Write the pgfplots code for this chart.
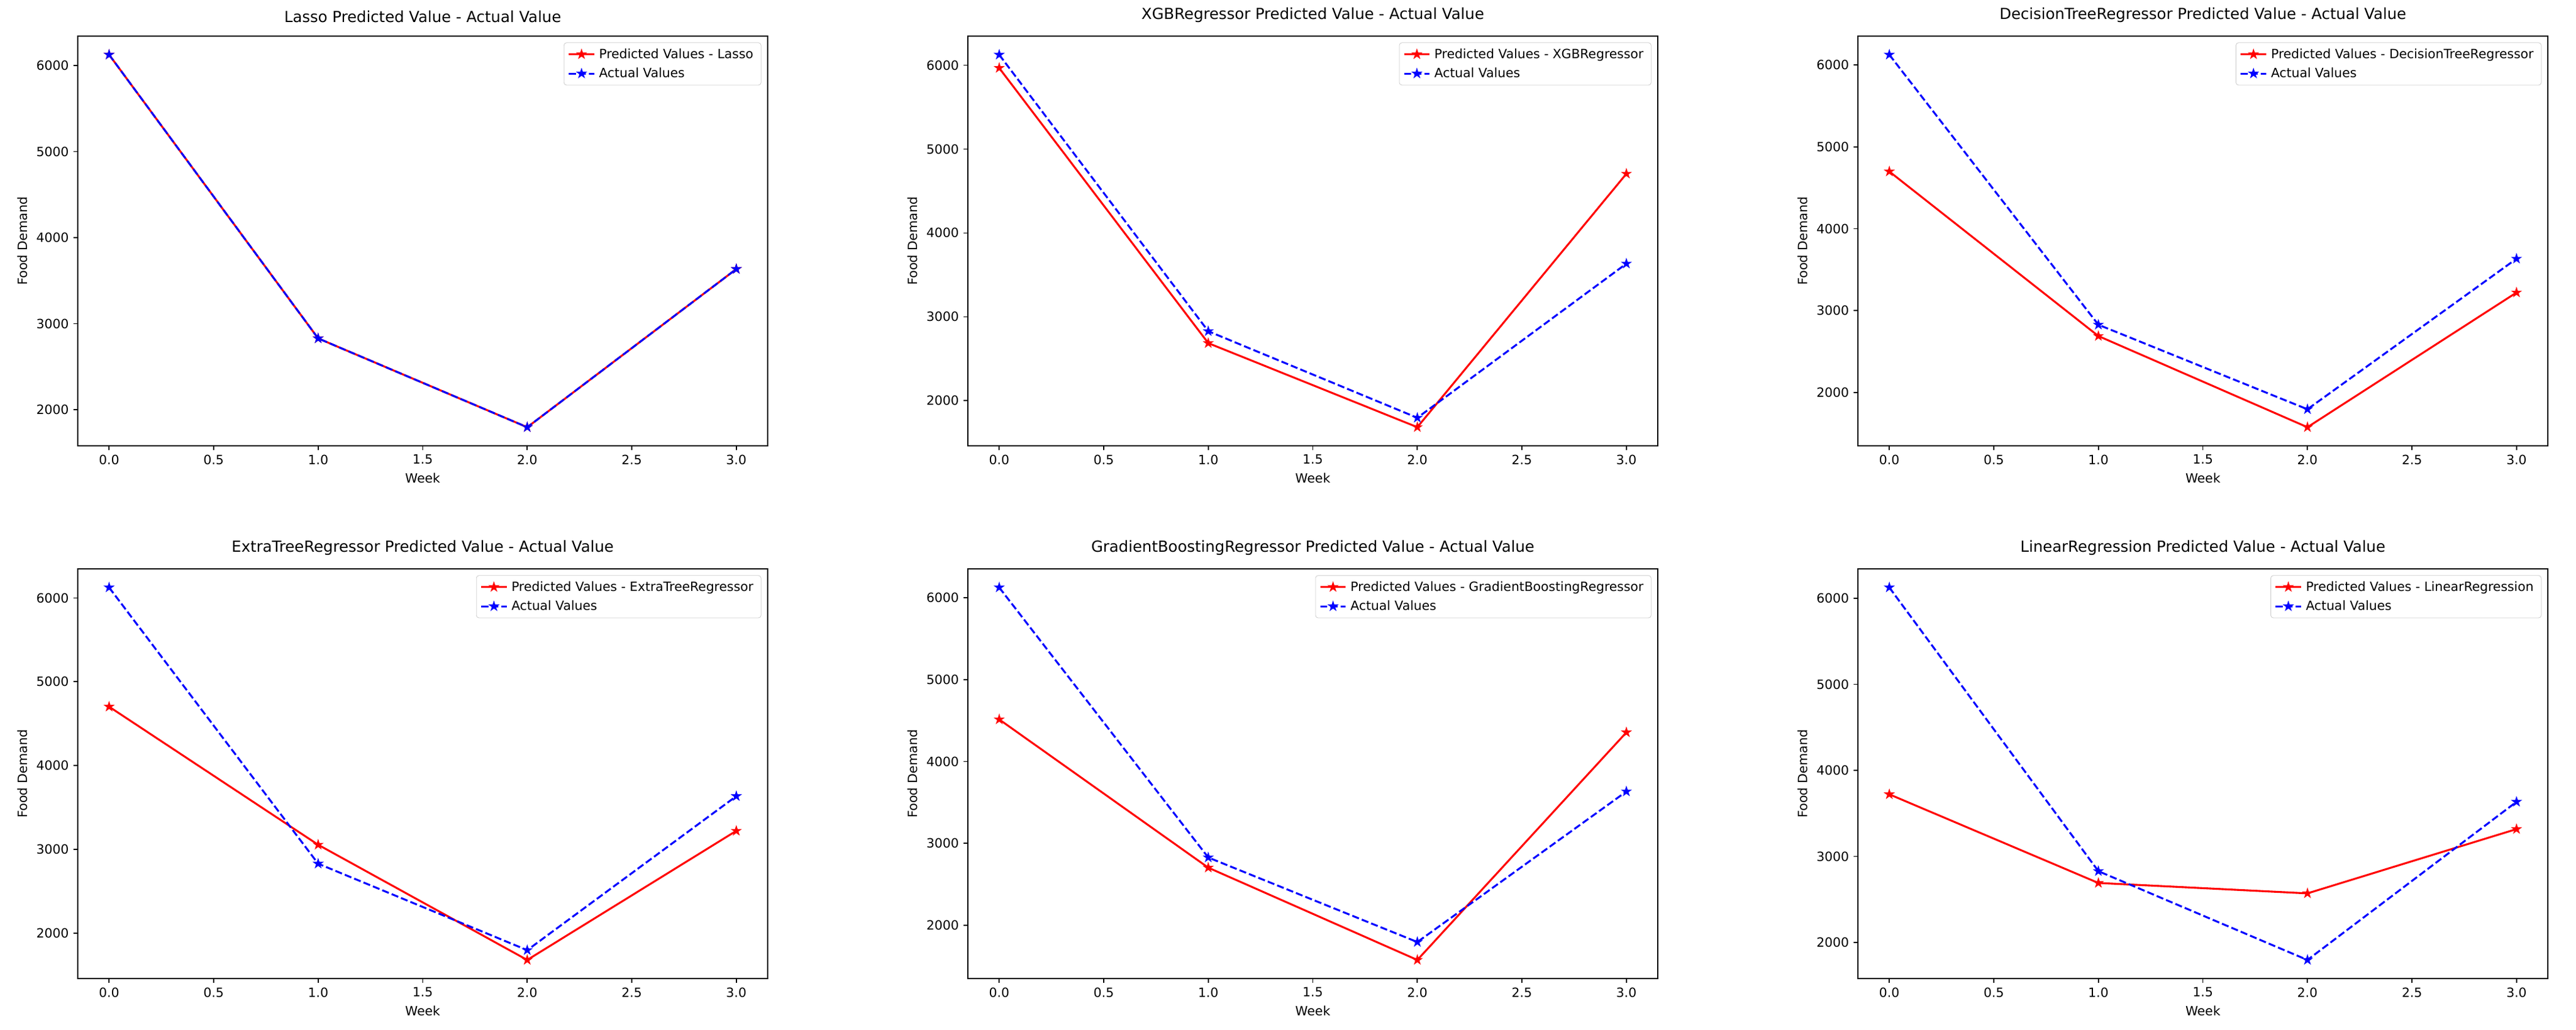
\documentclass[border=0pt]{standalone}
\usepackage{fontspec}
\setmainfont{DejaVu Sans}
\usepackage{pgfplots}
\pgfplotsset{compat=1.18}
\usetikzlibrary{plotmarks}

\pgfdeclareplotmark{fstar}{%
  \pgfpathmoveto{\pgfpointpolar{90}{\pgfplotmarksize}}%
  \pgfpathlineto{\pgfpointpolar{126}{0.382\pgfplotmarksize}}%
  \pgfpathlineto{\pgfpointpolar{162}{\pgfplotmarksize}}%
  \pgfpathlineto{\pgfpointpolar{198}{0.382\pgfplotmarksize}}%
  \pgfpathlineto{\pgfpointpolar{234}{\pgfplotmarksize}}%
  \pgfpathlineto{\pgfpointpolar{270}{0.382\pgfplotmarksize}}%
  \pgfpathlineto{\pgfpointpolar{306}{\pgfplotmarksize}}%
  \pgfpathlineto{\pgfpointpolar{342}{0.382\pgfplotmarksize}}%
  \pgfpathlineto{\pgfpointpolar{18}{\pgfplotmarksize}}%
  \pgfpathlineto{\pgfpointpolar{54}{0.382\pgfplotmarksize}}%
  \pgfpathclose
  \pgfusepathqfillstroke
}

\pgfplotsset{
  panel/.style={
    scale only axis,
    width=540.96pt, height=321.12pt,
    anchor=south west,
    xmin=-0.15, xmax=3.15,
    xtick={0,0.5,1,1.5,2,2.5,3},
    ytick={2000,3000,4000,5000,6000},
    scaled y ticks=false,
    xticklabel style={/pgf/number format/.cd, fixed, fixed zerofill, precision=1},
    yticklabel style={/pgf/number format/.cd, 1000 sep={}},
    /pgf/number format/assume math mode=true,
    tick label style={font=\fontsize{10}{12}\selectfont},
    label style={font=\fontsize{10}{12}\selectfont},
    title style={font=\fontsize{12}{14}\selectfont, yshift=1pt},
    xlabel={Week}, ylabel={Food Demand},
    tick align=outside,
    xtick pos=bottom, ytick pos=left,
    major tick length=3.5pt,
    every tick/.style={black, line width=0.8pt},
    axis line style={line width=0.8pt},
    legend cell align=left,
    legend style={at={(1,1)}, anchor=north east, xshift=-5pt, yshift=-5pt,
      draw=black!20, rounded corners=2pt, fill=white, fill opacity=0.8, text opacity=1,
      font=\fontsize{10}{12}\selectfont, inner xsep=3pt, inner ysep=3pt, row sep=3pt,
      nodes={inner xsep=3pt, inner ysep=1.5pt}},
    legend image code/.code={%
      \draw[mark repeat=2, mark phase=2, #1] plot coordinates {(0pt,0pt) (10pt,0pt) (20pt,0pt)};},
  },
  pred/.style={red, line width=1.5pt, mark=fstar, mark size=3pt, mark options={solid, line width=1pt}},
  act/.style={blue, line width=1.5pt, dash pattern=on 5.55pt off 2.4pt, mark=fstar, mark size=3pt, mark options={solid, line width=1pt}},
}

\begin{document}
\begin{tikzpicture}
\path (0,0) rectangle (2019.84pt,806.88pt);

% Lasso
\begin{axis}[panel, at={(60.96pt,457.44pt)}, ymin=1580, ymax=6341,
  title={Lasso Predicted Value - Actual Value}]
\addplot[pred] coordinates {(0,6125) (1,2828) (2,1796) (3,3634)};
\addlegendentry{Predicted Values - Lasso}
\addplot[act] coordinates {(0,6125) (1,2828) (2,1796) (3,3634)};
\addlegendentry{Actual Values}
\end{axis}

% XGB
\begin{axis}[panel, at={(758.88pt,457.44pt)}, ymin=1462, ymax=6347,
  title={XGBRegressor Predicted Value - Actual Value}]
\addplot[pred] coordinates {(0,5967) (1,2686) (2,1684) (3,4706)};
\addlegendentry{Predicted Values - XGBRegressor}
\addplot[act] coordinates {(0,6125) (1,2828) (2,1796) (3,3634)};
\addlegendentry{Actual Values}
\end{axis}

% Decision tree
\begin{axis}[panel, at={(1456.8pt,457.44pt)}, ymin=1350, ymax=6352,
  title={DecisionTreeRegressor Predicted Value - Actual Value}]
\addplot[pred] coordinates {(0,4699) (1,2690) (2,1577) (3,3221)};
\addlegendentry{Predicted Values - DecisionTreeRegressor}
\addplot[act] coordinates {(0,6125) (1,2828) (2,1796) (3,3634)};
\addlegendentry{Actual Values}
\end{axis}

% Extra tree
\begin{axis}[panel, at={(60.96pt,39.84pt)}, ymin=1457, ymax=6347,
  title={ExtraTreeRegressor Predicted Value - Actual Value}]
\addplot[pred] coordinates {(0,4702) (1,3054) (2,1679) (3,3220)};
\addlegendentry{Predicted Values - ExtraTreeRegressor}
\addplot[act] coordinates {(0,6125) (1,2828) (2,1796) (3,3634)};
\addlegendentry{Actual Values}
\end{axis}

% Gradient boosting
\begin{axis}[panel, at={(758.88pt,39.84pt)}, ymin=1350, ymax=6352,
  title={GradientBoostingRegressor Predicted Value - Actual Value}]
\addplot[pred] coordinates {(0,4514) (1,2704) (2,1577) (3,4356)};
\addlegendentry{Predicted Values - GradientBoostingRegressor}
\addplot[act] coordinates {(0,6125) (1,2828) (2,1796) (3,3634)};
\addlegendentry{Actual Values}
\end{axis}

% Linear regression
\begin{axis}[panel, at={(1456.8pt,39.84pt)}, ymin=1580, ymax=6341,
  title={LinearRegression Predicted Value - Actual Value}]
\addplot[pred] coordinates {(0,3721) (1,2691) (2,2570) (3,3317)};
\addlegendentry{Predicted Values - LinearRegression}
\addplot[act] coordinates {(0,6125) (1,2828) (2,1796) (3,3634)};
\addlegendentry{Actual Values}
\end{axis}
\end{tikzpicture}
\end{document}
